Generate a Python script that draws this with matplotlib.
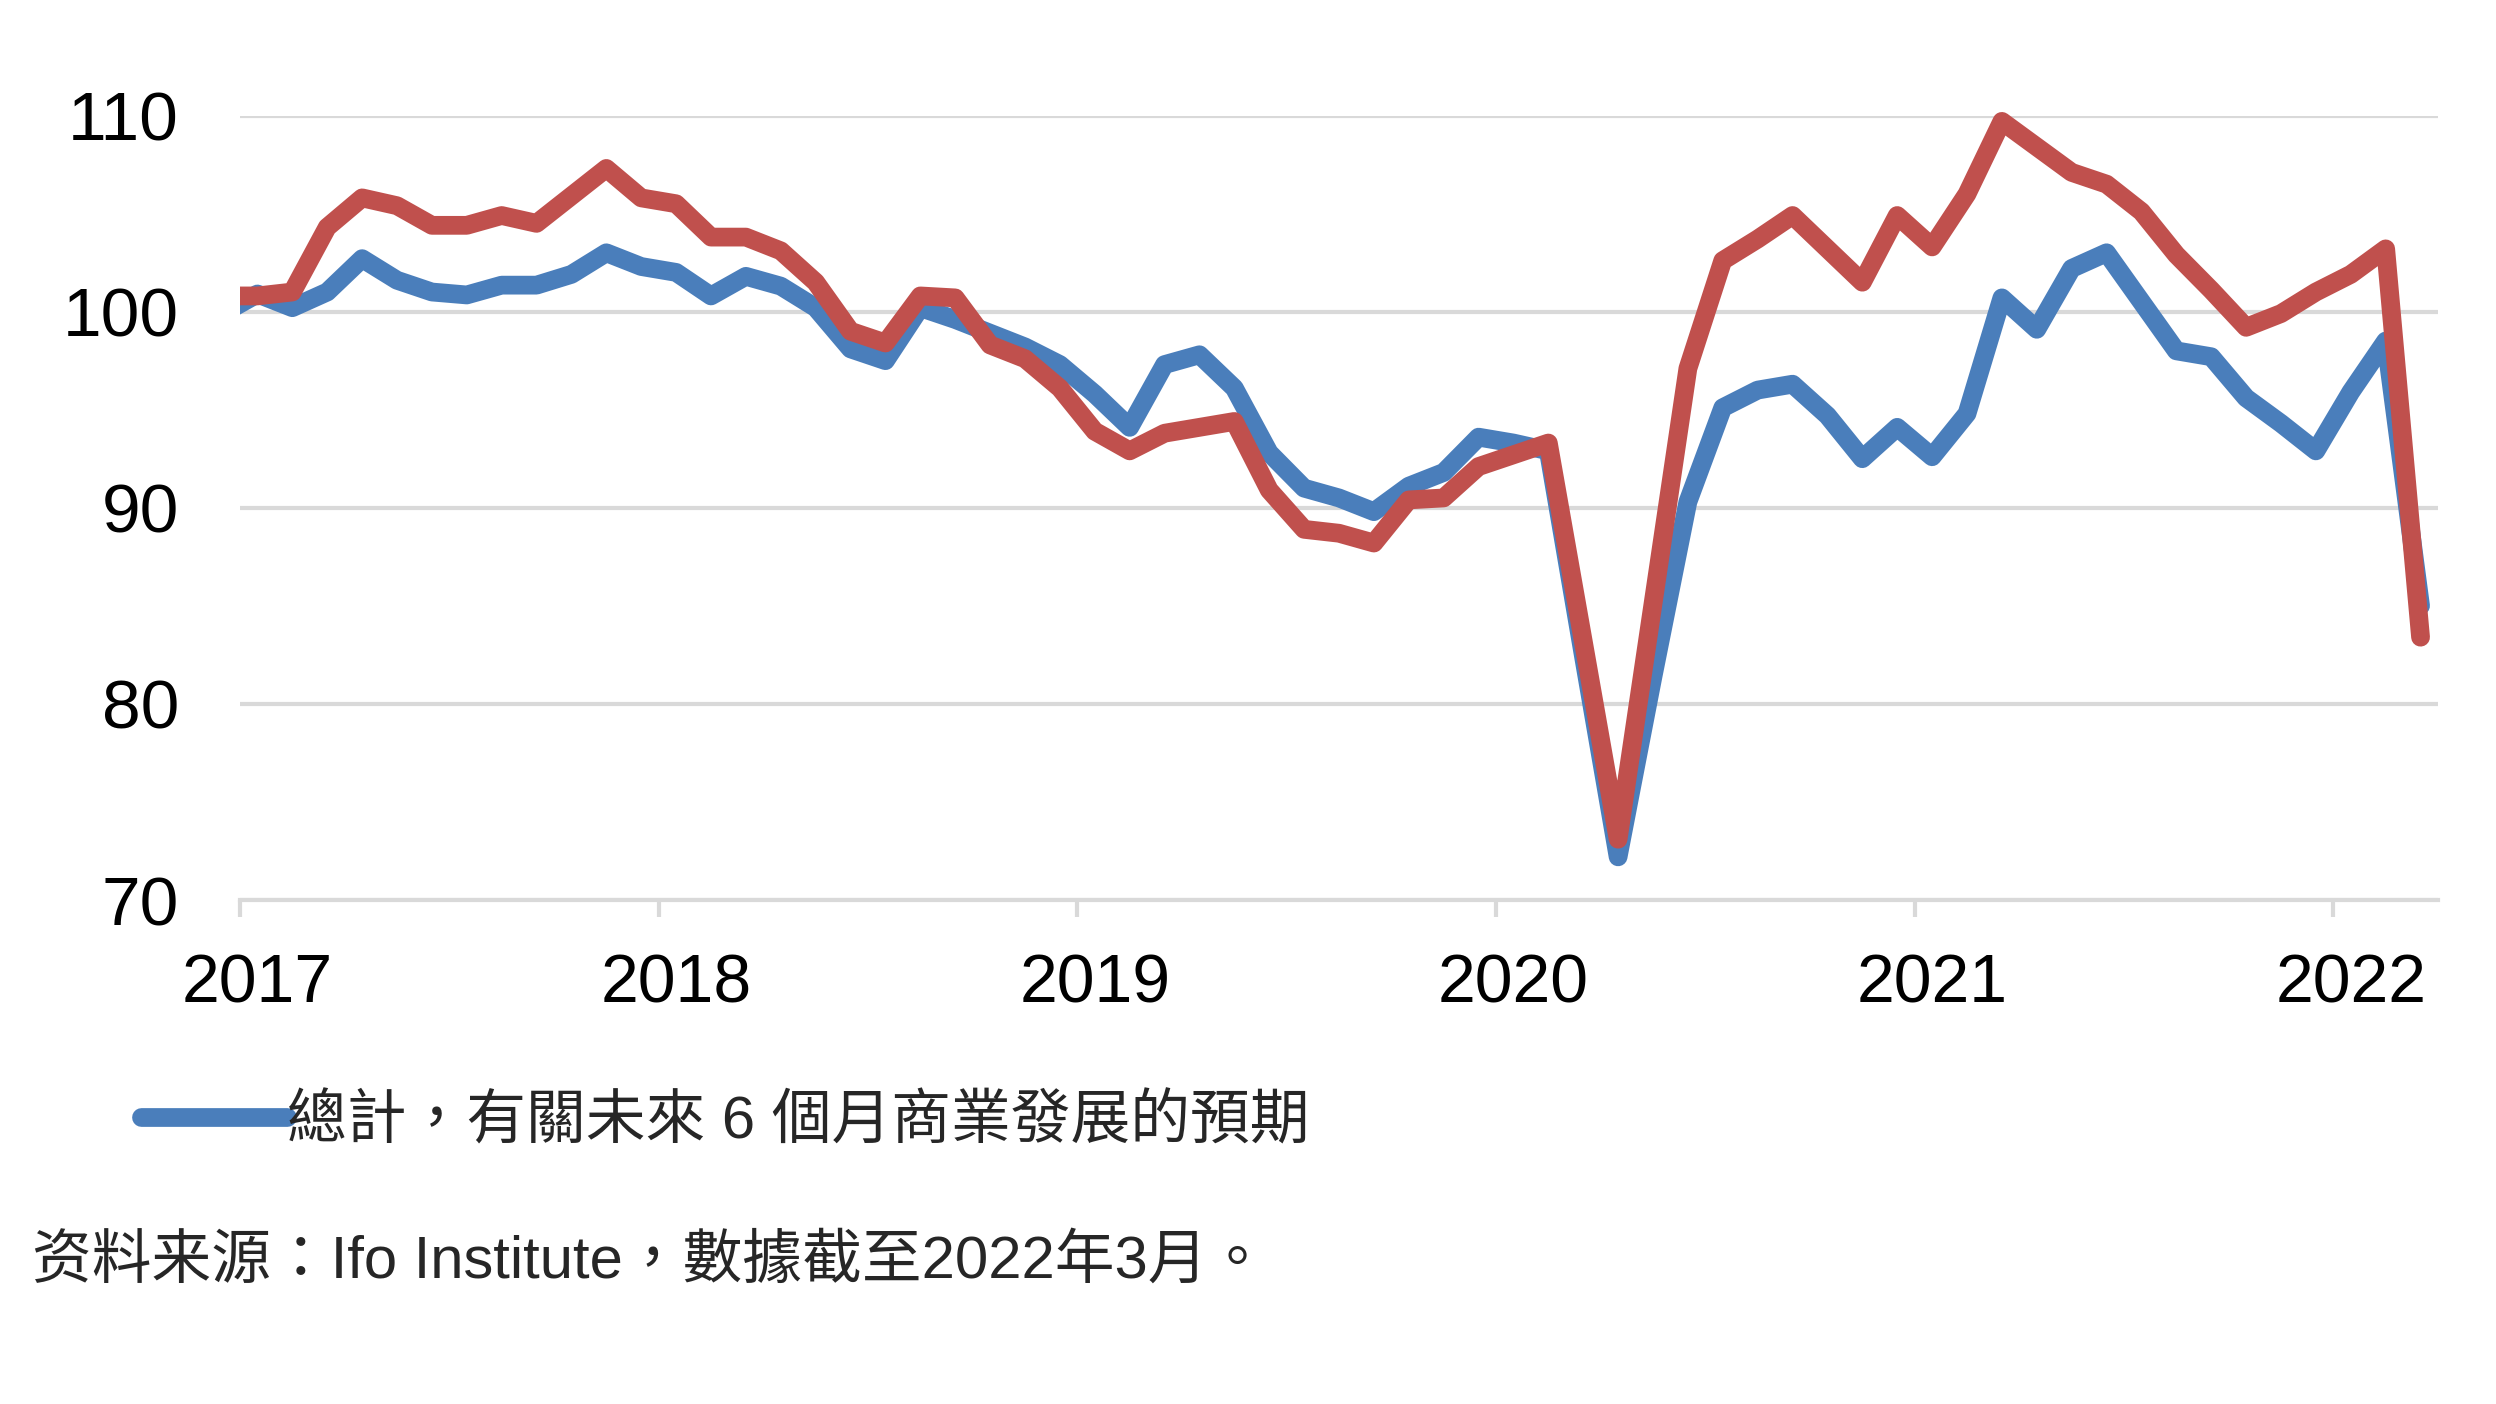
import numpy as np
import pandas as pd
import matplotlib
matplotlib.use("Agg")
import matplotlib.pyplot as plt
from matplotlib.patches import Rectangle

plt.rcParams['font.family'] = ['Liberation Sans', 'Noto Sans CJK TC', 'DejaVu Sans']

# monthly data, Dec 2016 (clipped at the left edge) to Mar 2022
months = pd.period_range("2016-12", "2022-03", freq="M")

# total: business expectations for the next 6 months (blue)
total = [99.9,
         100.9, 100.2, 101.0, 102.7, 101.6, 101.0, 100.85, 101.35, 101.35, 101.9, 103.0, 102.3,
         102.0, 100.8, 101.8, 101.3, 100.2, 98.1, 97.5, 100.2, 99.6, 98.9, 98.2, 97.3,
         95.8, 94.1, 97.3, 97.8, 96.1, 92.8, 91.0, 90.5, 89.8, 91.1, 91.8, 93.6,
         93.3, 92.9, 82.5, 72.2, 81.4, 90.3, 95.1, 96.0, 96.3, 94.7, 92.5, 94.1,
         92.6, 94.8, 100.7, 99.1, 102.2, 103.0, 100.5, 98.0, 97.7, 95.6, 94.3, 92.9,
         95.9, 98.5, 85.0]

# second series (red)
second = [100.8,
          100.8, 101.0, 104.3, 105.8, 105.4, 104.4, 104.4, 104.9, 104.5, 105.9, 107.3, 105.8,
          105.5, 103.8, 103.8, 103.1, 101.5, 99.0, 98.4, 100.8, 100.7, 98.3, 97.6, 96.1,
          93.9, 92.9, 93.8, 94.1, 94.4, 90.9, 88.9, 88.7, 88.2, 90.4, 90.5, 92.1,
          92.7, 93.3, 83.2, 73.1, 85.1, 97.1, 102.6, 103.7, 104.9, 103.2, 101.5, 104.9,
          103.3, 106.0, 109.7, 108.4, 107.1, 106.5, 105.1, 102.9, 101.1, 99.2, 99.9, 101.0,
          101.9, 103.2, 83.4]

years = ["2017", "2018", "2019", "2020", "2021", "2022"]
yticks = [70, 80, 90, 100, 110]

legend_label = "總計，有關未來 6 個月商業發展的預期"
source_text = "资料来源：Ifo Institute，數據截至2022年3月。"

# month position: Jan 2017 occupies [0, 1], points at category centres
start = pd.Period("2017-01", freq="M")
x = np.array([(m - start).n for m in months]) + 0.5

fig = plt.figure(figsize=(24.96, 14.04), dpi=100)
ax = fig.add_axes([240 / 2496, 1 - 900 / 1404, (2438 - 240) / 2496, (900 - 115.5) / 1404])

clip = Rectangle((0, -0.1), 1.05, 1.2, transform=ax.transAxes, visible=False)
ax.add_patch(clip)

l1, = ax.plot(x, total, color="#4A7EBB", lw=13.5, solid_joinstyle="round",
              solid_capstyle="round", label=legend_label, zorder=3)
l2, = ax.plot(x, second, color="#C0504D", lw=13.5, solid_joinstyle="round",
              solid_capstyle="round", zorder=4)
for ln in (l1, l2):
    ln.set_clip_path(clip)

ax.set_xlim(0, 63)
ax.set_ylim(70, 110)

ax.set_yticks(yticks)
ax.set_yticklabels([str(v) for v in yticks])
ax.grid(axis="y", color="#d9d9d9", lw=3, zorder=0)
ax.set_axisbelow(True)

ax.set_xticks([12 * i for i in range(len(years))])
ax.set_xticklabels([])
ax.set_xticks([12 * i + 0.5 for i in range(len(years))], minor=True)
ax.set_xticklabels(years, minor=True)

ax.tick_params(axis="y", length=0, pad=44, labelsize=50, labelcolor="#000000")
ax.tick_params(axis="x", which="major", length=12, width=3, color="#d9d9d9", direction="out")
ax.tick_params(axis="x", which="minor", length=0, pad=38, labelsize=49, labelcolor="#000000")

for s in ("left", "right", "top"):
    ax.spines[s].set_visible(False)
ax.spines["bottom"].set_color("#d9d9d9")
ax.spines["bottom"].set_linewidth(3)

ax.legend(handles=[l1], loc="center left", bbox_to_anchor=(141 / 2496, 1 - 1122 / 1404),
          bbox_transform=fig.transFigure, frameon=False, fontsize=43,
          handlelength=2.45, handletextpad=0.0, borderpad=0, borderaxespad=0,
          labelcolor="#262626")

fig.text(32 / 2496, 1 - 1262 / 1404, source_text, fontsize=43, color="#262626",
         va="center", ha="left")

fig.savefig("out.png", dpi=100, facecolor="white")
